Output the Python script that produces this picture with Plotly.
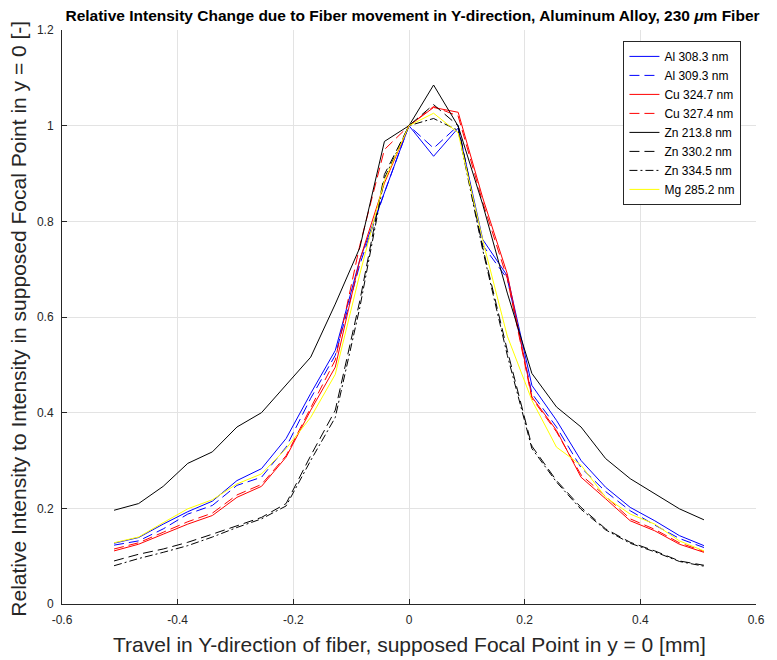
import plotly.graph_objects as go

x_mm = [-0.51, -0.4675, -0.425, -0.3825, -0.34, -0.2975, -0.255, -0.2125, -0.17, -0.1275,
        -0.085, -0.0425, 0.0, 0.0425, 0.085, 0.1275, 0.17, 0.2125, 0.255, 0.2975,
        0.34, 0.3825, 0.425, 0.4675, 0.51]

al_308 = [0.127, 0.139, 0.167, 0.193, 0.215, 0.258, 0.283, 0.346, 0.44, 0.53, 0.72, 0.86, 1.0,
          0.936, 0.995, 0.762, 0.686, 0.457, 0.384, 0.30, 0.244, 0.202, 0.174, 0.143, 0.122]
al_309 = [0.123, 0.132, 0.157, 0.188, 0.206, 0.248, 0.265, 0.328, 0.43, 0.52, 0.71, 0.86, 1.0,
          0.953, 1.0, 0.75, 0.68, 0.44, 0.37, 0.285, 0.235, 0.195, 0.165, 0.137, 0.118]
cu_324 = [0.111, 0.125, 0.146, 0.167, 0.185, 0.223, 0.246, 0.307, 0.405, 0.495, 0.72, 0.88, 1.0,
          1.038, 1.028, 0.849, 0.69, 0.433, 0.363, 0.265, 0.22, 0.174, 0.153, 0.125, 0.108]
cu_327 = [0.115, 0.128, 0.15, 0.172, 0.19, 0.228, 0.25, 0.31, 0.41, 0.51, 0.75, 0.95, 1.0,
          1.04, 1.02, 0.84, 0.68, 0.43, 0.36, 0.27, 0.225, 0.178, 0.156, 0.128, 0.11]
zn_213 = [0.196, 0.21, 0.246, 0.294, 0.318, 0.37, 0.40, 0.457, 0.516, 0.627, 0.745, 0.967, 1.0,
          1.085, 0.999, 0.835, 0.65, 0.482, 0.412, 0.370, 0.304, 0.262, 0.230, 0.199, 0.176]
zn_330 = [0.09, 0.104, 0.115, 0.129, 0.146, 0.164, 0.181, 0.21, 0.31, 0.405, 0.634, 0.898, 1.0,
          1.044, 1.0, 0.745, 0.53, 0.33, 0.258, 0.202, 0.157, 0.129, 0.111, 0.09, 0.081]
zn_334 = [0.08, 0.095, 0.108, 0.122, 0.14, 0.16, 0.178, 0.205, 0.30, 0.39, 0.62, 0.89, 1.0,
          1.015, 0.99, 0.74, 0.52, 0.325, 0.255, 0.198, 0.155, 0.127, 0.109, 0.089, 0.079]
mg_285 = [0.128, 0.14, 0.17, 0.199, 0.218, 0.251, 0.272, 0.325, 0.39, 0.48, 0.69, 0.885, 1.0,
          1.026, 0.985, 0.76, 0.56, 0.426, 0.328, 0.29, 0.223, 0.188, 0.167, 0.132, 0.111]

x_tickvals = [-0.6, -0.4, -0.2, 0.0, 0.2, 0.4, 0.6]
x_ticktext = ["-0.6", "-0.4", "-0.2", "0", "0.2", "0.4", "0.6"]
y_tickvals = [0.0, 0.2, 0.4, 0.6, 0.8, 1.0, 1.2]
y_ticktext = ["0", "0.2", "0.4", "0.6", "0.8", "1", "1.2"]

DASH = "10px,5px"
DASHDOT = "8px,3px,2px,3px"

series = [
    ("Al 308.3 nm", al_308, "#0000ff", "solid"),
    ("Al 309.3 nm", al_309, "#0000ff", DASH),
    ("Cu 324.7 nm", cu_324, "#ff0000", "solid"),
    ("Cu 327.4 nm", cu_327, "#ff0000", DASH),
    ("Zn 213.8 nm", zn_213, "#000000", "solid"),
    ("Zn 330.2 nm", zn_330, "#000000", DASH),
    ("Zn 334.5 nm", zn_334, "#000000", DASHDOT),
    ("Mg 285.2 nm", mg_285, "#ffff00", "solid"),
]

FONT = "Liberation Sans, Arial"

fig = go.Figure()
for name, vals, color, dash in series:
    fig.add_trace(go.Scatter(x=x_mm, y=vals, mode="lines", name=name,
                             line=dict(color=color, width=1, dash=dash)))

axis_common = dict(showgrid=True, gridcolor="#e3e3e3", gridwidth=1, zeroline=False,
                   showline=True, linecolor="#262626", linewidth=1, ticks="inside",
                   ticklen=5, tickcolor="#262626", ticklabelstandoff=5,
                   tickfont=dict(family=FONT, size=12, color="#262626"))

# page body has an 8px margin: figure is sized so the plot area lands where the reference has it
fig.update_layout(
    width=769, height=652,
    margin=dict(l=54, r=12, t=22, b=56),
    paper_bgcolor="white", plot_bgcolor="white",
    title=dict(text="<b>Relative Intensity Change due to Fiber movement in Y-direction, Aluminum Alloy, 230 <i>\u03bc</i>m Fiber</b>",
               font=dict(family=FONT, size=15.5, color="black"),
               xref="container", x=0.526, xanchor="center",
               yref="container", y=0.988, yanchor="middle"),
    xaxis=dict(range=[-0.6, 0.6], tickmode="array", tickvals=x_tickvals, ticktext=x_ticktext,
               **axis_common),
    yaxis=dict(range=[0, 1.2], tickmode="array", tickvals=y_tickvals, ticktext=y_ticktext,
               **axis_common),
    legend=dict(x=0.809, y=0.981, xanchor="left", yanchor="top",
                bgcolor="white", bordercolor="#262626", borderwidth=1,
                font=dict(family=FONT, size=12, color="black"),
                tracegroupgap=0, itemwidth=30),
    showlegend=True,
    annotations=[
        dict(text="Travel in Y-direction of fiber, supposed Focal Point in y = 0 [mm]",
             xref="paper", yref="paper", x=0.5, y=-0.0697, xanchor="center", yanchor="middle",
             showarrow=False, font=dict(family=FONT, size=21, color="#262626")),
        dict(text="Relative Intensity to Intensity in supposed Focal Point in y = 0 [-]",
             xref="paper", yref="paper", x=-0.062, y=0.497, xanchor="center", yanchor="middle",
             textangle=-90, showarrow=False,
             font=dict(family=FONT, size=21, color="#262626")),
    ],
)

fig.write_html("out.html")
